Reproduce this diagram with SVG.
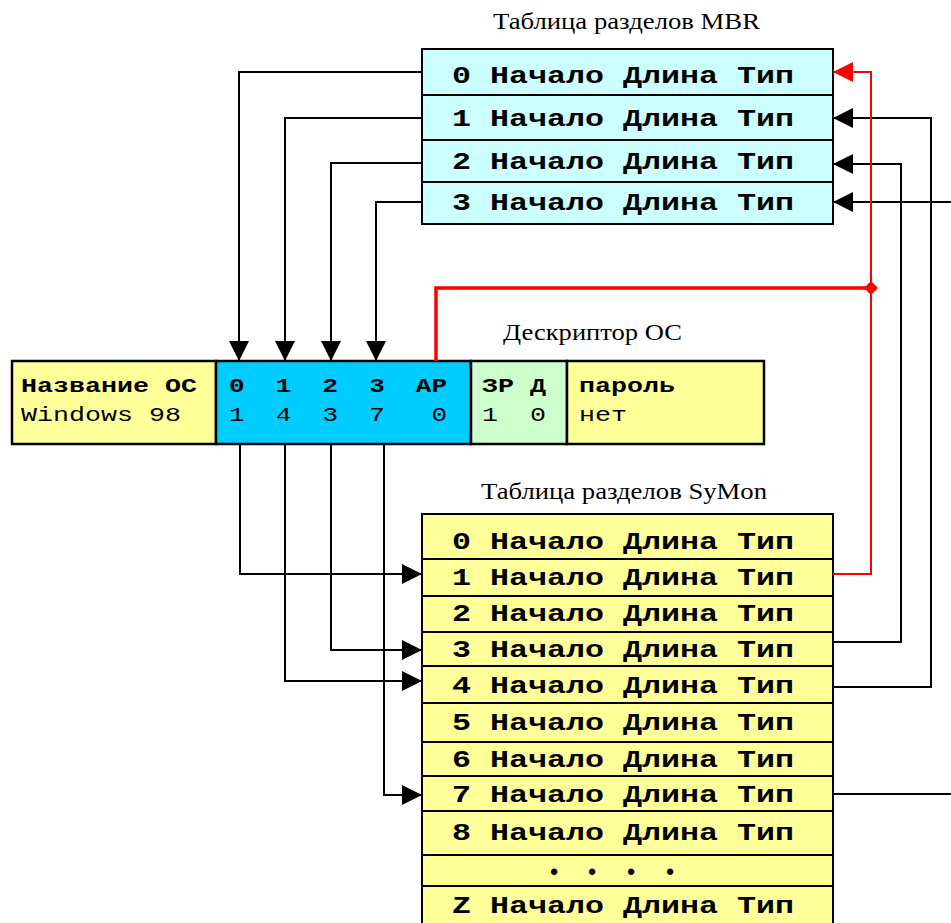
<svg xmlns="http://www.w3.org/2000/svg" width="951" height="923" viewBox="0 0 951 923">
<style>
.cell{stroke:#000;stroke-width:2}
.mbr{fill:#CCFFFF}
.sym{fill:#FFFF99}
.dy{fill:#FFFF99;stroke:#000;stroke-width:2.5}
.db{fill:#00CCFF;stroke:#000;stroke-width:2.5}
.dg{fill:#CCFFCC;stroke:#000;stroke-width:2.5}
.row{font-family:"Liberation Mono",monospace;font-weight:bold;font-size:24px;fill:#000}
.db1{font-family:"Liberation Mono",monospace;font-weight:bold;font-size:20px;fill:#000;white-space:pre}
.dr1{font-family:"Liberation Mono",monospace;font-size:20px;fill:#000;white-space:pre}
.ttl{font-family:"Liberation Serif",serif;font-size:24px;fill:#000}
.ln{fill:none;stroke:#000;stroke-width:2}
.rl{fill:none;stroke:#FF0000;stroke-width:2}
.rt{fill:none;stroke:#FF0000;stroke-width:3.5}
</style>
<defs>
<marker id="ah" markerUnits="userSpaceOnUse" markerWidth="20" markerHeight="20" refX="20" refY="10" orient="auto" viewBox="0 0 20 20">
<path d="M0,0 L20,10 L0,20 z" fill="#000"/>
</marker>
<marker id="ahr" markerUnits="userSpaceOnUse" markerWidth="20" markerHeight="20" refX="20" refY="10" orient="auto" viewBox="0 0 20 20">
<path d="M0,0 L20,10 L0,20 z" fill="#FF0000"/>
</marker>
</defs>

<text class="ttl" x="493" y="29" textLength="267" lengthAdjust="spacingAndGlyphs">Таблица разделов MBR</text>
<text class="ttl" x="503" y="340" textLength="179" lengthAdjust="spacingAndGlyphs">Дескриптор ОС</text>
<text class="ttl" x="481" y="499" textLength="286" lengthAdjust="spacingAndGlyphs">Таблица разделов SyMon</text>

<g id="mbr-table">
<rect class="cell mbr" x="422" y="49" width="411" height="46"/>
<rect class="cell mbr" x="422" y="95" width="411" height="45"/>
<rect class="cell mbr" x="422" y="140" width="411" height="42"/>
<rect class="cell mbr" x="422" y="182" width="411" height="42"/>
<text class="row" x="452" y="83" textLength="342" lengthAdjust="spacingAndGlyphs">0 Начало Длина Тип</text>
<text class="row" x="452" y="126" textLength="342" lengthAdjust="spacingAndGlyphs">1 Начало Длина Тип</text>
<text class="row" x="452" y="169" textLength="342" lengthAdjust="spacingAndGlyphs">2 Начало Длина Тип</text>
<text class="row" x="452" y="210" textLength="342" lengthAdjust="spacingAndGlyphs">3 Начало Длина Тип</text>
</g>

<g id="descriptor">
<rect class="dy" x="12" y="361" width="204" height="83"/>
<rect class="db" x="216" y="361" width="255" height="83"/>
<rect class="dg" x="471" y="361" width="96" height="83"/>
<rect class="dy" x="567" y="361" width="197" height="83"/>
<text class="db1" x="21" y="392" textLength="176" lengthAdjust="spacingAndGlyphs">Название ОС</text>
<text class="dr1" x="21" y="421" textLength="160" lengthAdjust="spacingAndGlyphs">Windows 98</text>
<text class="db1" x="229" y="392" xml:space="preserve" textLength="218" lengthAdjust="spacingAndGlyphs">0  1  2  3  AP</text>
<text class="dr1" x="229" y="421" xml:space="preserve" textLength="218" lengthAdjust="spacingAndGlyphs">1  4  3  7   0</text>
<text class="db1" x="482" y="392" xml:space="preserve" textLength="64" lengthAdjust="spacingAndGlyphs">ЗР Д</text>
<text class="dr1" x="482" y="421" xml:space="preserve" textLength="64" lengthAdjust="spacingAndGlyphs">1  0</text>
<text class="db1" x="579" y="392" textLength="96" lengthAdjust="spacingAndGlyphs">пароль</text>
<text class="dr1" x="579" y="421" textLength="48" lengthAdjust="spacingAndGlyphs">нет</text>
</g>

<g id="symon-table">
<rect class="cell sym" x="422" y="514" width="411" height="45"/>
<rect class="cell sym" x="422" y="559" width="411" height="37"/>
<rect class="cell sym" x="422" y="596" width="411" height="36"/>
<rect class="cell sym" x="422" y="632" width="411" height="34"/>
<rect class="cell sym" x="422" y="666" width="411" height="37"/>
<rect class="cell sym" x="422" y="703" width="411" height="39"/>
<rect class="cell sym" x="422" y="742" width="411" height="34"/>
<rect class="cell sym" x="422" y="776" width="411" height="35"/>
<rect class="cell sym" x="422" y="811" width="411" height="44"/>
<rect class="cell sym" x="422" y="855" width="411" height="31"/>
<rect class="cell sym" x="422" y="886" width="411" height="44"/>
<text class="row" x="452" y="549" textLength="342" lengthAdjust="spacingAndGlyphs">0 Начало Длина Тип</text>
<text class="row" x="452" y="585" textLength="342" lengthAdjust="spacingAndGlyphs">1 Начало Длина Тип</text>
<text class="row" x="452" y="621" textLength="342" lengthAdjust="spacingAndGlyphs">2 Начало Длина Тип</text>
<text class="row" x="452" y="657" textLength="342" lengthAdjust="spacingAndGlyphs">3 Начало Длина Тип</text>
<text class="row" x="452" y="693" textLength="342" lengthAdjust="spacingAndGlyphs">4 Начало Длина Тип</text>
<text class="row" x="452" y="730" textLength="342" lengthAdjust="spacingAndGlyphs">5 Начало Длина Тип</text>
<text class="row" x="452" y="767" textLength="342" lengthAdjust="spacingAndGlyphs">6 Начало Длина Тип</text>
<text class="row" x="452" y="802" textLength="342" lengthAdjust="spacingAndGlyphs">7 Начало Длина Тип</text>
<text class="row" x="452" y="840" textLength="342" lengthAdjust="spacingAndGlyphs">8 Начало Длина Тип</text>
<text class="row" x="554 592 631 670" y="879" text-anchor="middle" style="font-size:22px">••••</text>
<text class="row" x="452" y="913" textLength="342" lengthAdjust="spacingAndGlyphs">Z Начало Длина Тип</text>
</g>

<g id="connectors">
<path class="ln" d="M422,72 H239 V361" marker-end="url(#ah)"/>
<path class="ln" d="M422,118 H285 V361" marker-end="url(#ah)"/>
<path class="ln" d="M422,163 H331 V361" marker-end="url(#ah)"/>
<path class="ln" d="M422,202 H376 V361" marker-end="url(#ah)"/>
<path class="ln" d="M240,444 V574 H422" marker-end="url(#ah)"/>
<path class="ln" d="M285,444 V681 H422" marker-end="url(#ah)"/>
<path class="ln" d="M331,444 V650 H422" marker-end="url(#ah)"/>
<path class="ln" d="M384,444 V795 H422" marker-end="url(#ah)"/>
<path class="ln" d="M833,642 H901 V164 H833" marker-end="url(#ah)"/>
<path class="ln" d="M833,687 H931 V118 H833" marker-end="url(#ah)"/>
<path class="ln" d="M833,794 H951"/>
<path class="ln" d="M951,202 H833" marker-end="url(#ah)"/>
<path class="rl" d="M833,574 H871 V72 H833" marker-end="url(#ahr)"/>
<path class="rt" d="M436,361 V288 H871"/>
<polygon points="864,288 871,281 878,288 871,295" fill="#FF0000"/>
</g>
</svg>
